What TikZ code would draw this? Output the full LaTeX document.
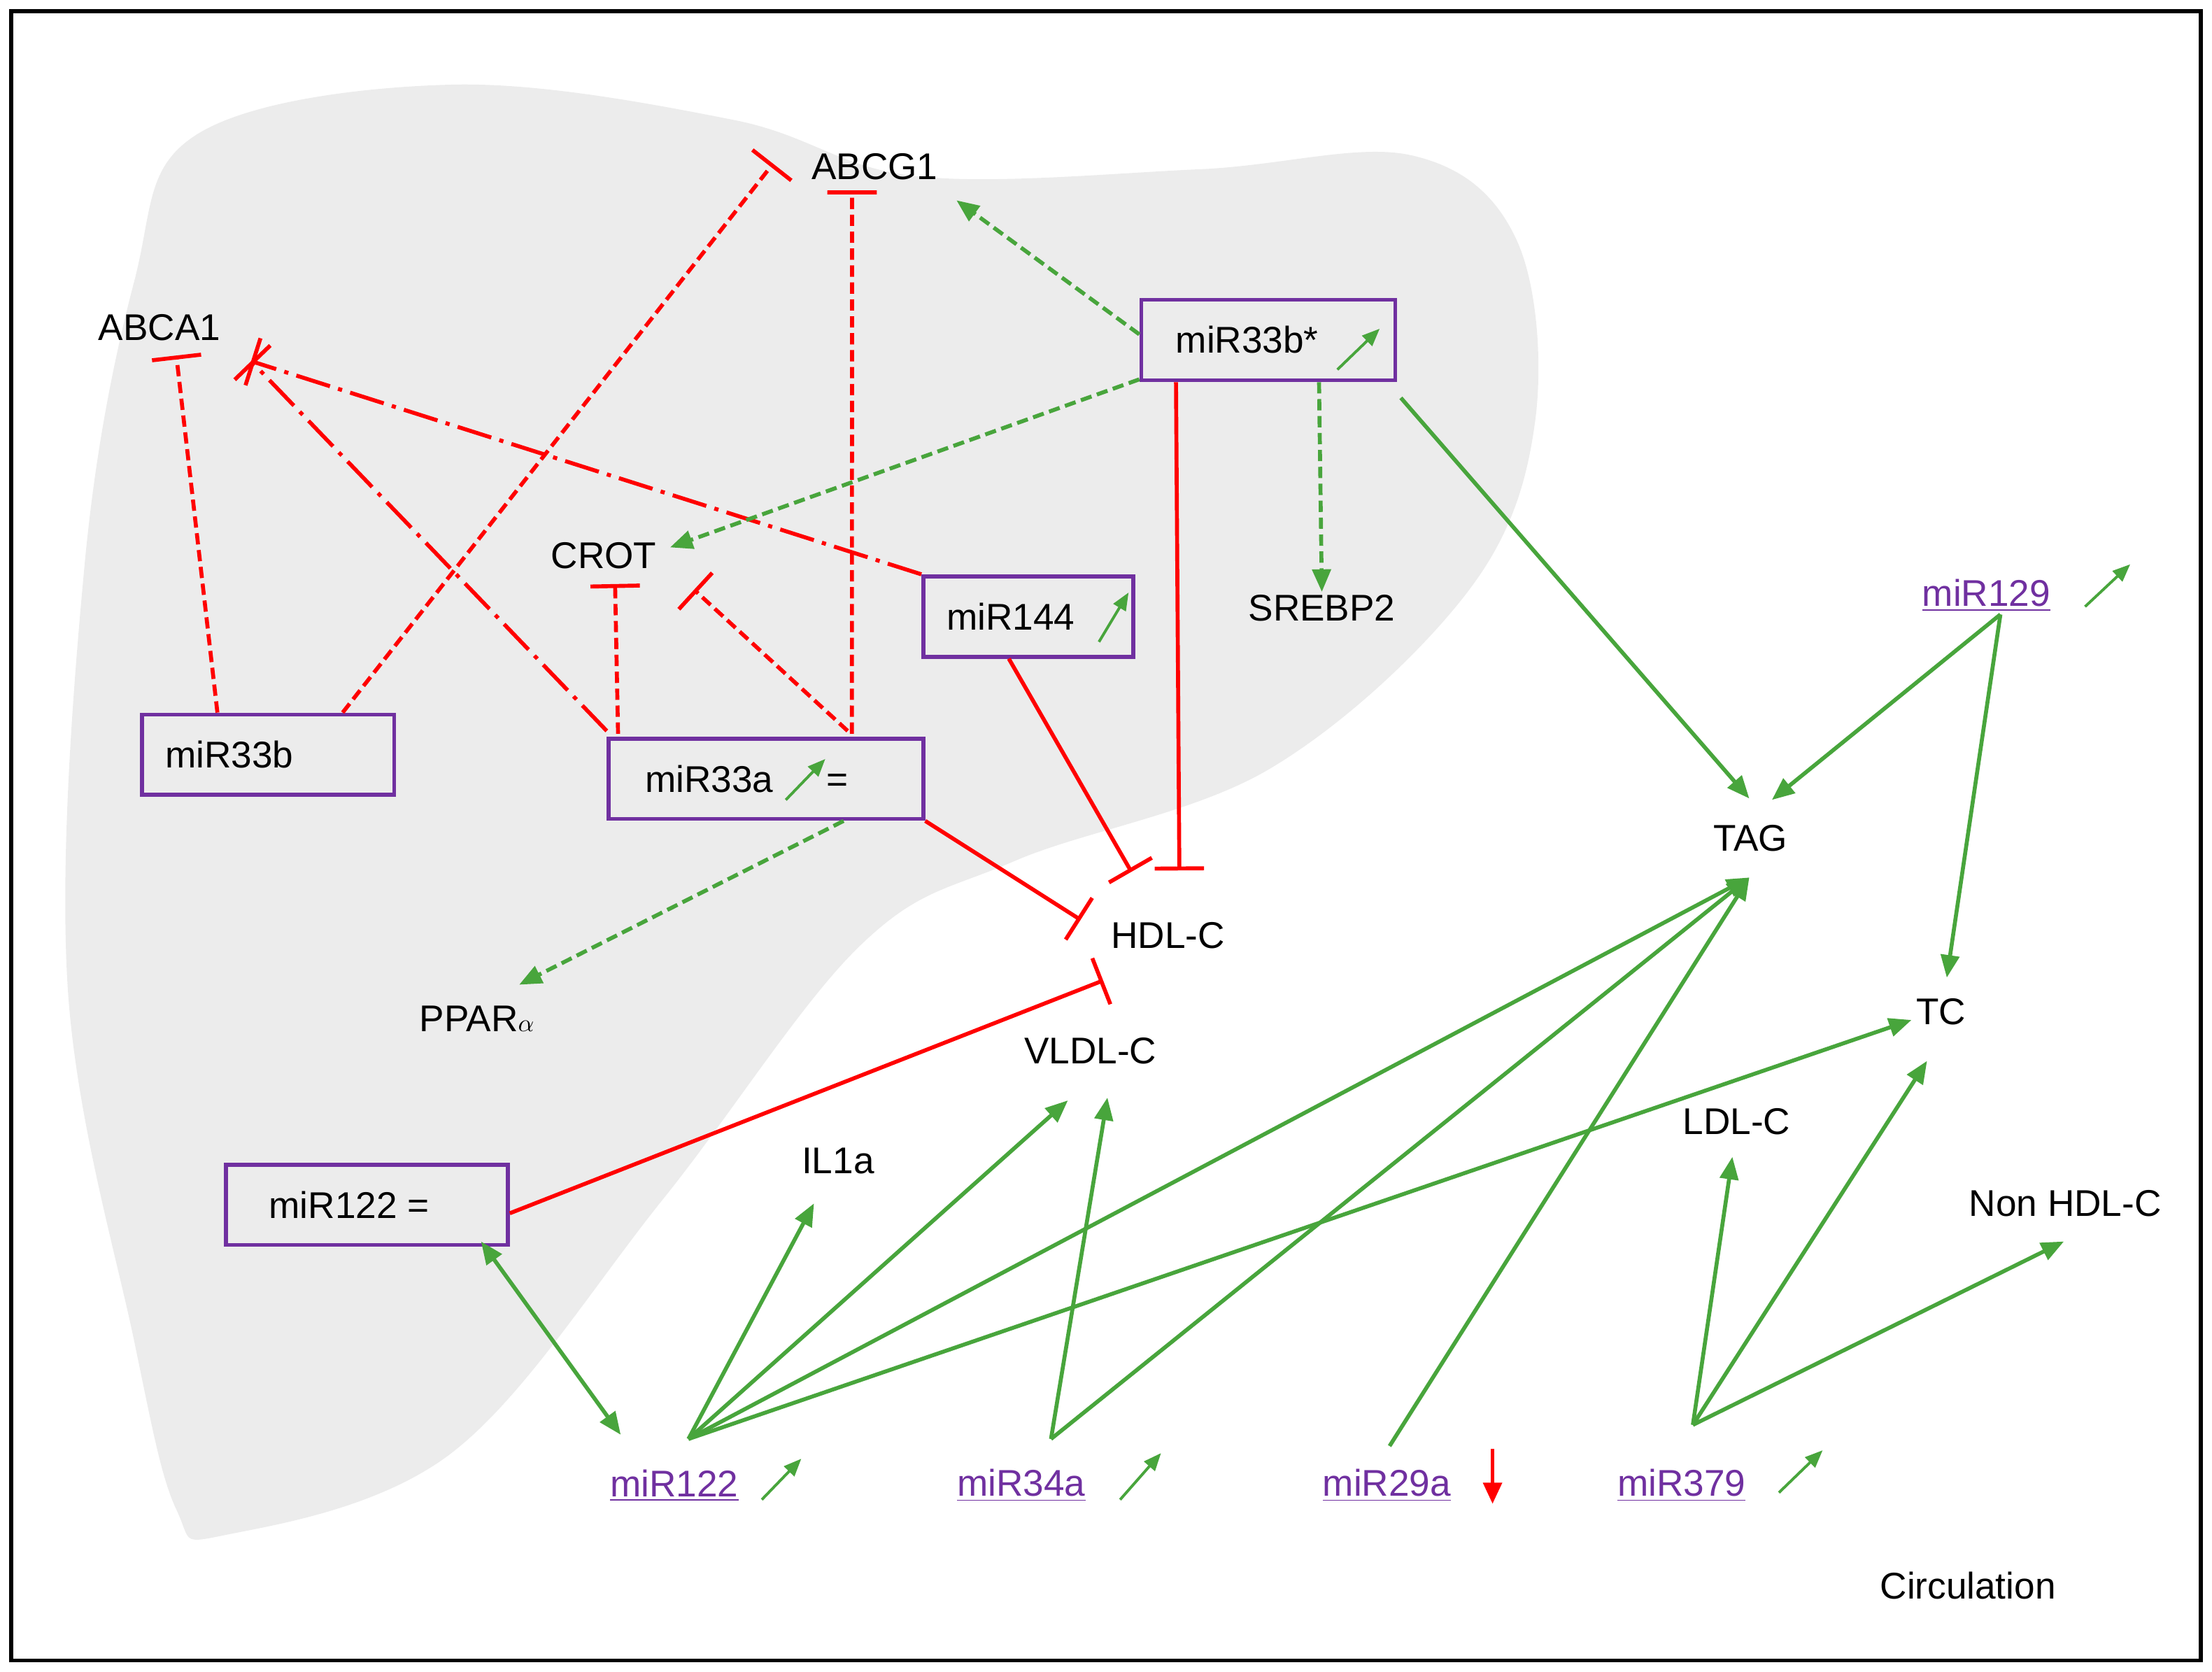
\documentclass[tikz,border=0pt]{standalone}
\usepackage{fontspec}
\setmainfont{Liberation Sans}
\usetikzlibrary{arrows.meta}
\definecolor{gr}{RGB}{72,165,60}
\definecolor{pu}{RGB}{112,48,160}
\definecolor{liver}{RGB}{236,236,236}
\begin{document}
\begin{tikzpicture}[x=0.02cm,y=-0.02cm,
 lbl/.style={font=\fontsize{15}{17}\selectfont,inner sep=1pt},
 box/.style={draw=pu,line width=1.6pt,minimum width=#1,minimum height=1.14cm,font=\fontsize{15}{17}\selectfont},
 circ/.style={font=\fontsize{15}{17}\selectfont,text=pu,inner sep=1pt},
 act/.style={gr,line width=1.6pt,-{Triangle[length=0.32cm,width=0.26cm]}},
 dact/.style={act,dash pattern=on 0.16cm off 0.08cm},
 inh/.style={red,line width=1.6pt,-{Bar[width=0.7cm,line width=1.6pt]}},
 dinh/.style={inh,dash pattern=on 0.16cm off 0.08cm},
 ddinh/.style={inh,dash pattern=on 0.5cm off 0.12cm on 0.06cm off 0.12cm},
 up/.style={gr,line width=1.1pt,-{Triangle[length=0.25cm,width=0.2cm]}}]
\useasboundingbox (0,0) rectangle (1568,1185);
\draw[line width=1.6pt] (8,8) rectangle (1560,1177);
\fill[liver] plot[smooth cycle,tension=0.6] coordinates{(140,95) (320,60) (520,85) (650,125) (850,120) (1000,110) (1075,170) (1088,300) (1040,420) (900,545) (720,610) (610,670) (470,850) (320,1030) (160,1088) (125,1070) (95,950) (48,700) (60,400) (95,200)};
% text nodes
\node[lbl] (abcg1) at (620,118) {ABCG1};
\node[lbl] (abca1) at (113,232) {ABCA1};
\node[lbl] (crot) at (428,394) {CROT};
\node[lbl] (srebp) at (937,431) {SREBP2};
\node[lbl] (ppar) at (338,722) {PPAR\fontsize{10}{12}\selectfont$\alpha$};
\node[lbl] (hdl) at (828,663) {HDL-C};
\node[lbl] (vldl) at (773,745) {VLDL-C};
\node[lbl] (tag) at (1241,594) {TAG};
\node[lbl] (tc) at (1376,717) {TC};
\node[lbl] (ldl) at (1231,795) {LDL-C};
\node[lbl] (nonhdl) at (1464,853) {Non HDL-C};
\node[lbl] (il1a) at (594,823) {IL1a};
\node[lbl] (circ) at (1395,1124) {Circulation};
% boxes
\node[box=3.6cm] (b33bs) at (899,241) {\hspace*{-0.6cm}miR33b*};
\node[box=2.98cm] (b144) at (729,437) {\hspace*{-0.5cm}miR144};
\node[box=3.58cm] (b33b) at (190,535) {\hspace*{-1.1cm}miR33b};
\node[box=4.46cm] (b33a) at (543,552) {\hspace*{-0.55cm}miR33a\hspace{0.75cm}=};
\node[box=4cm] (b122) at (260,854) {\hspace*{-0.5cm}miR122 =};
% small trend arrows
\draw[up] (948,262) -- (978,233);
\draw[up] (779,455) -- (800,420);
\draw[up] (557,567) -- (585,538);
% circulation miRNAs
\node[circ] (c129) at (1408,422) {\underline{miR129}};
\node[circ] (c122) at (478,1053) {\underline{miR122}};
\node[circ] (c34) at (724,1053) {\underline{miR34a}};
\node[circ] (c29) at (983,1053) {\underline{miR29a}};
\node[circ] (c379) at (1192,1053) {\underline{miR379}};
\draw[up] (1478,430) -- (1510,400);
\draw[up] (540,1063) -- (568,1034);
\draw[up] (794,1063) -- (823,1030);
\draw[up] (1261,1058) -- (1292,1028);
\draw[red,line width=1.6pt,-{Triangle[length=0.3cm,width=0.26cm]}] (1058,1027) -- (1058,1066);
% endpoints
\coordinate (eA1) at (125,252);
\coordinate (eA1b) at (178,256);
\coordinate (eG1a) at (548,116);
\coordinate (eG1b) at (604,135);
\coordinate (eCR) at (436,414);
\coordinate (eCR2) at (492,418);
\coordinate (eH1) at (836,617);
\coordinate (eH2) at (802,618);
\coordinate (eH3) at (766,652);
\coordinate (eV) at (782,695);
% red inhibitions
\draw[dinh] (b33b.north west)++(55,0) -- (eA1);
\draw[dinh] (b33b.north east)++(-38,0) -- (eG1a);
\draw[dinh] (b33a.north east)++(-52,-2) -- (eG1b);
\draw[ddinh] (b33a.north west)++(0,-4) -- (eA1b);
\draw[ddinh] (b144.north west) -- (eA1b);
\draw[dinh] (b33a.north west)++(8,-2) -- (eCR);
\draw[dinh] (b33a.north east)++(-55,-4) -- (eCR2);
\draw[inh] (b33bs.south west)++(26,0) -- (eH1);
\draw[inh] (b144.south west)++(62,0) -- (eH2);
\draw[inh] (b33a.south east) -- (eH3);
\draw[inh] (b122.east)++(0,6) -- (eV);
% green dashed
\draw[dact] (b33bs.west)++(0,-4) -- (678,142);
\draw[dact] (b33bs.south west)++(0,-2) -- (475,388);
\draw[dact] (b33bs.south)++(36,0) -- (srebp.north);
\draw[dact] (b33a.south)++(55,0) -- (368,698);
% green solid
\draw[act] (993,282) -- (1240,566);
\draw[act] (c129.south)++(10,0) -- (1256,567);
\draw[act] (c129.south)++(10,0) -- (1380,693);
\coordinate (s122) at (488,1020);
\draw[act] (s122) -- (577,853);
\draw[act] (s122) -- (757,780);
\draw[act] (s122) -- (1240,622);
\draw[act] (s122) -- (1355,723);
\draw[gr,line width=1.6pt,{Triangle[length=0.32cm,width=0.26cm]}-{Triangle[length=0.32cm,width=0.26cm]}] (341,880) -- (440,1017);
\coordinate (s34) at (745,1020);
\draw[act] (s34) -- (785,778);
\draw[act] (s34) -- (1240,622);
\draw[act] (985,1025) -- (1240,622);
\coordinate (s379) at (1200,1010);
\draw[act] (s379) -- (1228,820);
\draw[act] (s379) -- (1366,752);
\draw[act] (s379) -- (1463,880);
\end{tikzpicture}
\end{document}
